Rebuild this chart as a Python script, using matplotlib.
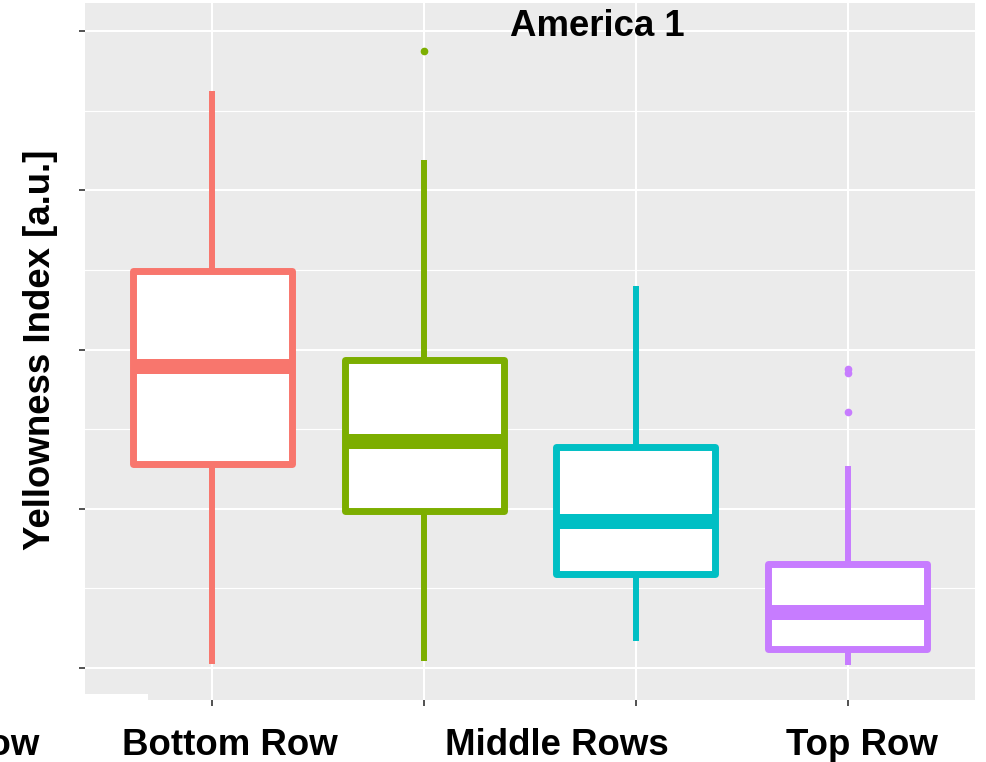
import matplotlib.pyplot as plt
from matplotlib.patches import Rectangle

plt.rcParams['font.family'] = ['Liberation Sans', 'DejaVu Sans']

# box statistics per group
groups = ["Bottom Row", "Middle Rows", "Middle Rows 2", "Top Row"]
whislo = [10.25, 10.44, 11.70, 10.19]
q1 = [22.81, 19.86, 15.90, 11.19]
med = [28.94, 24.23, 19.23, 13.52]
q3 = [34.94, 29.35, 23.88, 16.53]
whishi = [46.24, 41.91, 34.00, 22.69]
fliers = [[], [48.76], [], [28.78, 28.53, 26.08]]
colors = ["#F8766D", "#7CAE00", "#00BFC4", "#C77CFF"]

# axis labels as shown under the panel
xlabels = ["Row", "Bottom Row", "Middle Rows", "Top Row"]
xlabel_pos = [40, 230, 557, 861.5]
xlabel_ha = ["right", "center", "center", "center"]

W, H = 986, 762
fig = plt.figure(figsize=(W / 100, H / 100), dpi=100)
ax = fig.add_axes([85 / W, (H - 700) / H, 890 / W, 697 / H])
ax.set_facecolor("#EBEBEB")
for s in ax.spines.values():
    s.set_visible(False)

stats = []
for i in range(len(groups)):
    stats.append(dict(label=groups[i], whislo=whislo[i], q1=q1[i], med=med[i],
                      q3=q3[i], whishi=whishi[i], fliers=fliers[i]))

bp = ax.bxp(stats, positions=[1, 2, 3, 4], widths=0.75, patch_artist=True,
            showcaps=False, zorder=3)
for i, c in enumerate(colors):
    b = bp['boxes'][i]
    b.set_facecolor("white")
    b.set_edgecolor(c)
    b.set_linewidth(5)
    b.set_joinstyle("round")
    bp['medians'][i].set_color(c)
    bp['medians'][i].set_linewidth(10.8)
    bp['medians'][i].set_solid_capstyle("butt")
    for w in bp['whiskers'][2 * i:2 * i + 2]:
        w.set_color(c)
        w.set_linewidth(4.3)
        w.set_solid_capstyle("butt")
        w.set_zorder(2)
    f = bp['fliers'][i]
    f.set_marker("o")
    f.set_markerfacecolor(c)
    f.set_markeredgecolor(c)
    f.set_markersize(4.5)

ax.set_xlim(0.4, 4.6)
ax.set_ylim(7.99, 51.76)
ax.set_xticks([1, 2, 3, 4])
ax.set_xticklabels([])
ax.set_yticks([10, 20, 30, 40, 50])
ax.set_yticks([15, 25, 35, 45], minor=True)
ax.set_yticklabels([])
ax.tick_params(which="major", length=4, width=1.2, color="#333333")
ax.tick_params(which="minor", length=0)
ax.grid(True, which="major", color="white", linewidth=1.5, zorder=0)
ax.grid(True, which="minor", axis="y", color="white", linewidth=0.8, zorder=0)
ax.set_axisbelow(True)

# small white notch at the lower left of the panel
fig.patches.append(Rectangle((85 / W, (H - 700) / H), 63 / W, 6 / H,
                             transform=fig.transFigure, facecolor="white",
                             edgecolor="none", zorder=5))

fig.text(597.5 / W, (H - 36) / H, "America 1", ha="center", va="baseline",
         fontsize=26.4, fontweight="bold")
for lab, x, ha in zip(xlabels, xlabel_pos, xlabel_ha):
    fig.text(x / W, (H - 755) / H, lab, ha=ha, va="baseline",
             fontsize=26.4, fontweight="bold")
fig.text(40.5 / W, (H - 350) / H, "Yellowness Index [a.u.]", rotation=90,
         ha="center", va="center", fontsize=26.4, fontweight="bold")

fig.savefig("out.png", dpi=100)
